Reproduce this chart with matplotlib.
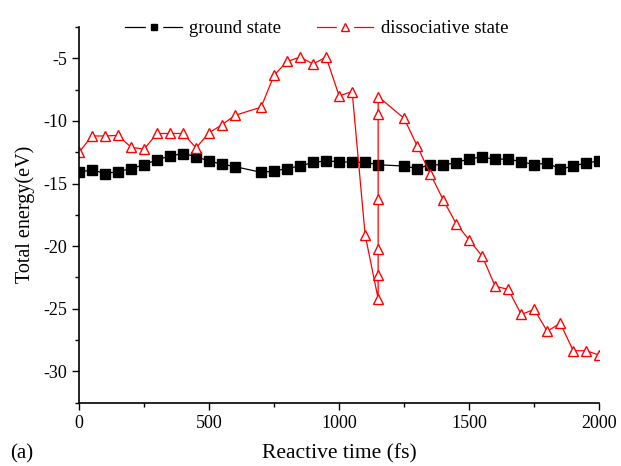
import matplotlib.pyplot as plt
from matplotlib.lines import Line2D
from matplotlib.legend_handler import HandlerTuple
from matplotlib.ticker import MultipleLocator

plt.rcParams['font.family'] = ['Liberation Serif', 'DejaVu Serif']
plt.rcParams['axes.unicode_minus'] = False

# ground state
ground_t = [0, 50, 100, 150, 200, 250, 300, 350, 400, 450, 500, 550, 600,
            700, 750, 800, 850, 900, 950, 1000, 1050, 1100, 1150,
            1250, 1300, 1350, 1400, 1450, 1500, 1550, 1600, 1650, 1700,
            1750, 1800, 1850, 1900, 1950, 2000]
ground_e = [-14.1, -13.9, -14.2, -14.05, -13.8, -13.5, -13.1, -12.8, -12.6, -12.85, -13.2, -13.45, -13.65,
            -14.1, -14.0, -13.8, -13.6, -13.3, -13.2, -13.25, -13.3, -13.3, -13.5,
            -13.6, -13.8, -13.5, -13.5, -13.35, -13.0, -12.9, -13.05, -13.05, -13.25,
            -13.5, -13.35, -13.85, -13.6, -13.35, -13.2]

# dissociative state
diss_t = [0, 50, 100, 150, 200, 250, 300, 350, 400, 450, 500, 550, 600,
          700, 750, 800, 850, 900, 950, 1000, 1050, 1100,
          1150, 1150, 1150, 1150, 1150, 1150,
          1250, 1300, 1350, 1400, 1450, 1500, 1550, 1600, 1650, 1700,
          1750, 1800, 1850, 1900, 1950, 2000]
diss_e = [-12.5, -11.2, -11.2, -11.15, -12.1, -12.25, -11.0, -11.0, -11.0, -12.15, -10.95, -10.3, -9.55,
          -8.9, -6.35, -5.25, -4.9, -5.45, -4.9, -8.0, -7.65, -19.1,
          -24.2, -22.3, -20.25, -16.25, -9.45, -8.05,
          -9.8, -12.0, -14.2, -16.3, -18.2, -19.5, -20.8, -23.2, -23.45, -25.45,
          -25.05, -26.8, -26.15, -28.35, -28.35, -28.7]

fig = plt.figure(figsize=(6.21, 4.66), dpi=100)
ax = fig.add_axes([0.1272, 0.1358, 0.8378, 0.8062])

ax.plot(ground_t, ground_e, color='black', lw=0.9, marker='s', ms=6.5,
        mfc='black', mec='black')
ax.plot(diss_t, diss_e, color='red', lw=0.9, marker='^', ms=7.5,
        mfc='white', mec='red', mew=1.0)

ax.set_xlim(0, 2000)
ax.set_ylim(-32.5, -2.5)
ax.xaxis.set_major_locator(MultipleLocator(500))
ax.xaxis.set_minor_locator(MultipleLocator(250))
ax.yaxis.set_major_locator(MultipleLocator(5))
ax.yaxis.set_minor_locator(MultipleLocator(2.5))
ax.spines['top'].set_visible(False)
ax.spines['right'].set_visible(False)
ax.spines['left'].set_linewidth(1.2)
ax.spines['bottom'].set_linewidth(1.2)
ax.tick_params(which='major', length=5, width=1.0, labelsize=13)
ax.tick_params(which='minor', length=3, width=1.0)

ax.set_xlabel('Reactive time (fs)', fontsize=15.5, labelpad=9)
ax.set_ylabel('Total energy(eV)', fontsize=14.5, labelpad=6)

# legend handles: line broken around a small marker
g_handle = (Line2D([], [], color='black', lw=0.9),
            Line2D([], [], ls='none', marker='s', ms=11, mfc='white', mec='white'),
            Line2D([], [], ls='none', marker='s', ms=5, mfc='black', mec='black'))
d_handle = (Line2D([], [], color='red', lw=0.9),
            Line2D([], [], ls='none', marker='s', ms=12, mfc='white', mec='white'),
            Line2D([], [], ls='none', marker='^', ms=6, mfc='white', mec='red', mew=1.0))
ax.legend([g_handle, d_handle], ['ground state', 'dissociative state'],
          handler_map={tuple: HandlerTuple(ndivide=1)},
          loc='center', bbox_to_anchor=(0.457, 0.995), ncol=2, frameon=False,
          fontsize=13.5, handlelength=3.0, handletextpad=0.4, columnspacing=1.9,
          borderaxespad=0, borderpad=0)

fig.text(0.016, 0.026, '(a)', fontsize=15, va='center')

fig.savefig('out.png', dpi=100)
